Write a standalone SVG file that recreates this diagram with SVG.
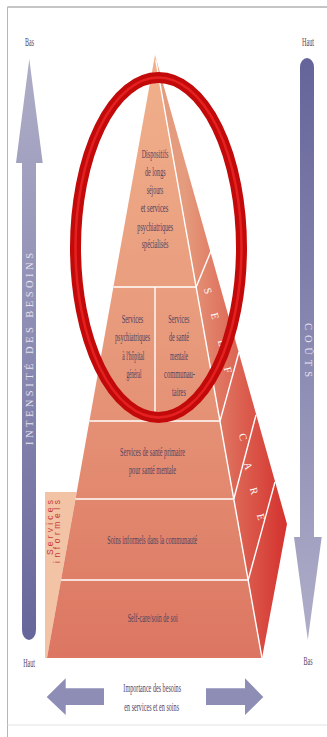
<svg xmlns="http://www.w3.org/2000/svg" width="327" height="737" viewBox="0 0 327 737">
<defs>
<linearGradient id="gFront" gradientUnits="userSpaceOnUse" x1="0" y1="55" x2="0" y2="658">
<stop offset="0" stop-color="#f1b08c"/><stop offset="0.45" stop-color="#e89b7c"/><stop offset="1" stop-color="#dc7662"/>
</linearGradient>
<linearGradient id="gSide" gradientUnits="userSpaceOnUse" x1="185" y1="0" x2="290" y2="0">
<stop offset="0" stop-color="#e59b7d"/><stop offset="1" stop-color="#d42e2b"/>
</linearGradient>
<linearGradient id="gLeft" gradientUnits="userSpaceOnUse" x1="0" y1="59" x2="0" y2="640">
<stop offset="0" stop-color="#afaec8"/><stop offset="1" stop-color="#67669b"/>
</linearGradient>
<linearGradient id="gRight" gradientUnits="userSpaceOnUse" x1="0" y1="58" x2="0" y2="640">
<stop offset="0" stop-color="#65649a"/><stop offset="1" stop-color="#afaec9"/>
</linearGradient>
<style>
.lbl{font-family:"Liberation Serif","Times New Roman",serif;font-size:12px;fill:#4f4260;text-anchor:middle}
.sl{font-family:"Liberation Serif","Times New Roman",serif;font-size:10.5px;fill:#ffffff;text-anchor:middle;dominant-baseline:central}
.wl{stroke:#ffffff;stroke-width:1.4;fill:none}
.tier{fill:url(#gFront)}
.bararrow{fill:#8e8db6}
</style>
</defs>
<rect x="0" y="0" width="327" height="737" fill="#ffffff"/>
<g id="frame">
<line x1="7.5" y1="7" x2="327" y2="7" stroke="#8a8a8a" stroke-width="1.2"/>
<line x1="7.5" y1="7" x2="7.5" y2="737" stroke="#b5b5b5" stroke-width="1"/>
<line x1="7.5" y1="725" x2="327" y2="725" stroke="#e2e2e2" stroke-width="1"/>
</g>
<g id="left-axis">
<path d="M29.3,59 L42.7,163 L36,163 L36,630 A7,10 0 0 1 22,630 L22,163 L16,163 Z" fill="url(#gLeft)"/>
<text transform="translate(33,445) rotate(-90)" font-family="'Liberation Serif','Times New Roman',serif" font-size="10.5" fill="#e4e3ef" textLength="192" lengthAdjust="spacing">INTENSITÉ DES BESOINS</text>
<text class="lbl" transform="translate(29.5,45.5) scale(0.52,1)" textLength="17.3" lengthAdjust="spacingAndGlyphs">Bas</text>
<text class="lbl" transform="translate(29,666.5) scale(0.52,1)" textLength="22.5" lengthAdjust="spacingAndGlyphs">Haut</text>
</g>
<g id="right-axis">
<path d="M300,67 A7,9 0 0 1 314,67 L314,537 L321.7,537 L307.8,640 L294,537 L300,537 Z" fill="url(#gRight)"/>
<text transform="translate(305,323) rotate(90)" font-family="'Liberation Serif','Times New Roman',serif" font-size="10.5" fill="#e4e3ef" textLength="54" lengthAdjust="spacing">COÛTS</text>
<text class="lbl" transform="translate(308,45.5) scale(0.52,1)" textLength="23.1" lengthAdjust="spacingAndGlyphs">Haut</text>
<text class="lbl" transform="translate(308,664.5) scale(0.52,1)" textLength="17.3" lengthAdjust="spacingAndGlyphs">Bas</text>
</g>
<g id="services-informels">
<polygon points="45,492 76.7,492 47,658 45,658" fill="#f2c3a5"/>
<text transform="translate(53,555) rotate(-90)" font-family="'Liberation Sans',Arial,sans-serif" font-size="8.5" fill="#c8383a" textLength="55" lengthAdjust="spacing">Services</text>
<text transform="translate(59.8,563) rotate(-90)" font-family="'Liberation Sans',Arial,sans-serif" font-size="8.5" fill="#c8383a" textLength="63" lengthAdjust="spacing">informels</text>
</g>
<g id="self-care-side">
<polygon points="155,55 287,524 262,658" fill="url(#gSide)"/>
<line class="wl" x1="196.2" y1="287" x2="211" y2="251"/>
<line class="wl" x1="220" y1="421" x2="239" y2="352"/>
<line class="wl" x1="233.8" y1="499" x2="256" y2="415"/>
<line class="wl" x1="248.2" y1="580" x2="275" y2="482"/>
<text class="sl" transform="translate(208,291) rotate(75)">S</text>
<text class="sl" transform="translate(215,316) rotate(75)">E</text>
<text class="sl" transform="translate(222,343) rotate(75)">L</text>
<text class="sl" transform="translate(228,370) rotate(75)">F</text>
<text class="sl" transform="translate(243,437) rotate(75)">C</text>
<text class="sl" transform="translate(248,466) rotate(75)">A</text>
<text class="sl" transform="translate(254,491) rotate(75)">R</text>
<text class="sl" transform="translate(261,517) rotate(75)">E</text>
</g>
<g id="tier-long-stay">
<polygon class="tier" points="155,55 196.2,287 113.4,287"/>
<text class="lbl" transform="translate(155,157.5) scale(0.52,1)" textLength="51.3" lengthAdjust="spacingAndGlyphs">Dispositifs</text>
<text class="lbl" transform="translate(155.3,176) scale(0.52,1)" textLength="39.8" lengthAdjust="spacingAndGlyphs">de longs</text>
<text class="lbl" transform="translate(155,194) scale(0.52,1)" textLength="32.1" lengthAdjust="spacingAndGlyphs">séjours</text>
<text class="lbl" transform="translate(154.5,212) scale(0.52,1)" textLength="53.3" lengthAdjust="spacingAndGlyphs">et services</text>
<text class="lbl" transform="translate(155.3,230.5) scale(0.52,1)" textLength="69.2" lengthAdjust="spacingAndGlyphs">psychiatriques</text>
<text class="lbl" transform="translate(155,248) scale(0.52,1)" textLength="51.3" lengthAdjust="spacingAndGlyphs">spécialisés</text>
</g>
<g id="tier-hospital">
<polygon class="tier" points="113.4,287 155,287 155,421 89.4,421"/>
<text class="lbl" transform="translate(132.5,322.5) scale(0.52,1)" textLength="41.7" lengthAdjust="spacingAndGlyphs">Services</text>
<text class="lbl" transform="translate(132.5,341) scale(0.52,1)" textLength="67.3" lengthAdjust="spacingAndGlyphs">psychiatriques</text>
<text class="lbl" transform="translate(133.3,359.5) scale(0.52,1)" textLength="42.3" lengthAdjust="spacingAndGlyphs">à l'hôpital</text>
<text class="lbl" transform="translate(134,377.5) scale(0.52,1)" textLength="28.8" lengthAdjust="spacingAndGlyphs">général</text>
</g>
<g id="tier-community">
<polygon class="tier" points="155,287 196.2,287 220,421 155,421"/>
<text class="lbl" transform="translate(178.8,322.5) scale(0.52,1)" textLength="40.4" lengthAdjust="spacingAndGlyphs">Services</text>
<text class="lbl" transform="translate(179,341) scale(0.52,1)" textLength="38.5" lengthAdjust="spacingAndGlyphs">de santé</text>
<text class="lbl" transform="translate(179,359.5) scale(0.52,1)" textLength="34.6" lengthAdjust="spacingAndGlyphs">mentale</text>
<text class="lbl" transform="translate(179.5,377.5) scale(0.52,1)" textLength="59.6" lengthAdjust="spacingAndGlyphs">communau-</text>
<text class="lbl" transform="translate(179,396) scale(0.52,1)" textLength="26.9" lengthAdjust="spacingAndGlyphs">taires</text>
</g>
<g id="tier-primary">
<polygon class="tier" points="89.4,421 220,421 233.8,499 75.5,499"/>
<text class="lbl" transform="translate(152.5,455.5) scale(0.52,1)" textLength="125" lengthAdjust="spacingAndGlyphs">Services de santé primaire</text>
<text class="lbl" transform="translate(152.5,474) scale(0.52,1)" textLength="90.4" lengthAdjust="spacingAndGlyphs">pour santé mentale</text>
</g>
<g id="tier-informal">
<polygon class="tier" points="75.5,499 233.8,499 248.2,580 61,580"/>
<text class="lbl" transform="translate(152.3,544) scale(0.52,1)" textLength="173.1" lengthAdjust="spacingAndGlyphs">Soins informels dans la communauté</text>
</g>
<g id="tier-selfcare">
<polygon class="tier" points="61,580 248.2,580 262,658 47,658"/>
<text class="lbl" transform="translate(152.7,622) scale(0.52,1)" textLength="96.2" lengthAdjust="spacingAndGlyphs">Self-care/soin de soi</text>
</g>
<g id="connectors">
<line class="wl" x1="155.8" y1="60" x2="262" y2="658"/>
<line class="wl" x1="113.4" y1="287" x2="196.2" y2="287"/>
<line class="wl" x1="155" y1="287" x2="155" y2="421"/>
<line class="wl" x1="89.4" y1="421" x2="220" y2="421"/>
<line class="wl" x1="75.5" y1="499" x2="233.8" y2="499"/>
<line class="wl" x1="61" y1="580" x2="248.2" y2="580"/>
</g>
<g id="bottom-axis">
<path class="bararrow" d="M46.7,697 L65.7,678.3 L65.7,688.3 L104,688.3 L104,705 L65.7,705 L65.7,715 Z"/>
<path class="bararrow" d="M263.3,697 L245,678.3 L245,688.3 L206,688.3 L206,705 L245,705 L245,715 Z"/>
<text class="lbl" transform="translate(152.2,692) scale(0.52,1)" textLength="111" lengthAdjust="spacingAndGlyphs">Importance des besoins</text>
<text class="lbl" transform="translate(151.7,710.5) scale(0.52,1)" textLength="105.2" lengthAdjust="spacingAndGlyphs">en services et en soins</text>
</g>
<g id="highlight-ellipse">
<ellipse cx="158.5" cy="247.5" rx="83" ry="170" fill="none" stroke="#c30a0a" stroke-width="11"/>
<ellipse cx="158.5" cy="247.5" rx="83" ry="170" fill="none" stroke="#e42020" stroke-width="2.5"/>
</g>
</svg>
